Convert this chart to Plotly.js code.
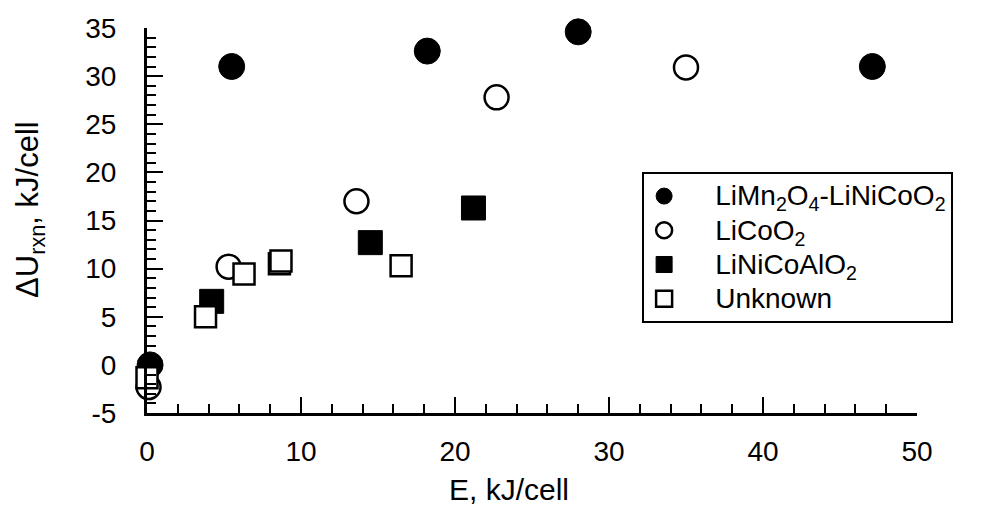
<!DOCTYPE html>
<html>
<head>
<meta charset="utf-8">
<script src="https://cdn.plot.ly/plotly-3.0.1.min.js"></script>
<style>html,body{margin:0;padding:0;background:#fff;}#chart{width:992px;height:507px;}</style>
</head>
<body>
<div id="chart"></div>
<script>
// Series names
const seriesNames = [
  "LiMn<sub>2</sub>O<sub>4</sub>-LiNiCoO<sub>2</sub>",
  "LiCoO<sub>2</sub>",
  "LiNiCoAlO<sub>2</sub>",
  "Unknown"
];
// LiMn2O4-LiNiCoO2 (filled circles)
const lmoX = [0.2, 5.5, 18.2, 28.0, 47.1];
const lmoY = [0.0, 31.0, 32.6, 34.6, 31.0];
// LiCoO2 (open circles)
const lcoX = [0.1, 5.3, 13.6, 22.7, 35.0];
const lcoY = [-2.3, 10.2, 17.0, 27.8, 30.9];
// LiNiCoAlO2 (filled squares)
const ncaX = [4.2, 14.5, 21.2];
const ncaY = [6.6, 12.7, 16.3];
// Unknown (open squares)
const unkX = [0.0, 3.8, 6.3, 8.6, 8.7, 16.5];
const unkY = [-1.35, 5.0, 9.45, 10.5, 10.8, 10.3];
// Ticks
const xTickVals = [0, 10, 20, 30, 40, 50];
const xTickText = ["0", "10", "20", "30", "40", "50"];
const yTickVals = [-5, 0, 5, 10, 15, 20, 25, 30, 35];
const yTickText = ["-5", "0", "5", "10", "15", "20", "25", "30", "35"];
const xTitle = "E, kJ/cell";
const yTitle = "\u0394U<sub>rxn</sub>, kJ/cell";

const FONT = "Liberation Sans, Arial, Helvetica, sans-serif";

function legendLabel(s) {
  return '<span style="font-size:28px">\u00a0\u00a0\u00a0\u00a0' + s + '</span>';
}

const traces = [
  {x: lmoX, y: lmoY, name: legendLabel(seriesNames[0]), type: "scatter", mode: "markers", cliponaxis: false,
   marker: {symbol: "circle", size: 26, color: "#000", line: {color: "#000", width: 1}}},
  {x: lcoX, y: lcoY, name: legendLabel(seriesNames[1]), type: "scatter", mode: "markers", cliponaxis: false,
   marker: {symbol: "circle", size: 24, color: "#fff", line: {color: "#000", width: 2.5}}},
  {x: ncaX, y: ncaY, name: legendLabel(seriesNames[2]), type: "scatter", mode: "markers", cliponaxis: false,
   marker: {symbol: "square", size: 24, color: "#000", line: {color: "#000", width: 1}}},
  {x: unkX, y: unkY, name: legendLabel(seriesNames[3]), type: "scatter", mode: "markers", cliponaxis: false,
   marker: {symbol: "square", size: 21, color: "#fff", line: {color: "#000", width: 2.5}}}
];

const axisCommon = {
  showline: true, linecolor: "#000", linewidth: 3,
  ticks: "inside", ticklen: 16, tickwidth: 2, tickcolor: "#000",
  showgrid: false, zeroline: false, mirror: false,
  tickmode: "array",
  tickfont: {family: FONT, size: 28, color: "#000"},
  fixedrange: true
};

const layout = {
  width: 992, height: 507,
  margin: {l: 147, r: 75, t: 28, b: 94, pad: 0},
  paper_bgcolor: "#fff", plot_bgcolor: "#fff",
  font: {family: FONT, color: "#000"},
  xaxis: Object.assign({}, axisCommon, {
    range: [0, 50], tickvals: xTickVals, ticktext: xTickText,
    ticklabelstandoff: 11,
    minor: {dtick: 2, tick0: 0, ticks: "inside", ticklen: 9, tickwidth: 2, tickcolor: "#000", showgrid: false}
  }),
  yaxis: Object.assign({}, axisCommon, {
    range: [-5, 35], tickvals: yTickVals, ticktext: yTickText,
    ticklabelstandoff: 22,
    minor: {dtick: 1, tick0: 0, ticks: "inside", ticklen: 9, tickwidth: 2, tickcolor: "#000", showgrid: false}
  }),
  showlegend: true,
  legend: {
    x: 0.643, y: 0.626, xanchor: "left", yanchor: "top",
    bgcolor: "#fff", bordercolor: "#000", borderwidth: 2,
    font: {family: FONT, size: 24, color: "#000"},
    itemwidth: 30, tracegroupgap: 0
  },
  annotations: [
    {text: xTitle, xref: "paper", yref: "paper", x: 0.470, y: -0.198,
     xanchor: "center", yanchor: "middle", showarrow: false,
     font: {family: FONT, size: 30, color: "#000"}},
    {text: yTitle, xref: "paper", yref: "paper", x: -0.152, y: 0.530,
     xanchor: "center", yanchor: "middle", showarrow: false, textangle: -90,
     font: {family: FONT, size: 31, color: "#000"}}
  ]
};

Plotly.newPlot("chart", traces, layout, {displayModeBar: false, staticPlot: true});
</script>
</body>
</html>
